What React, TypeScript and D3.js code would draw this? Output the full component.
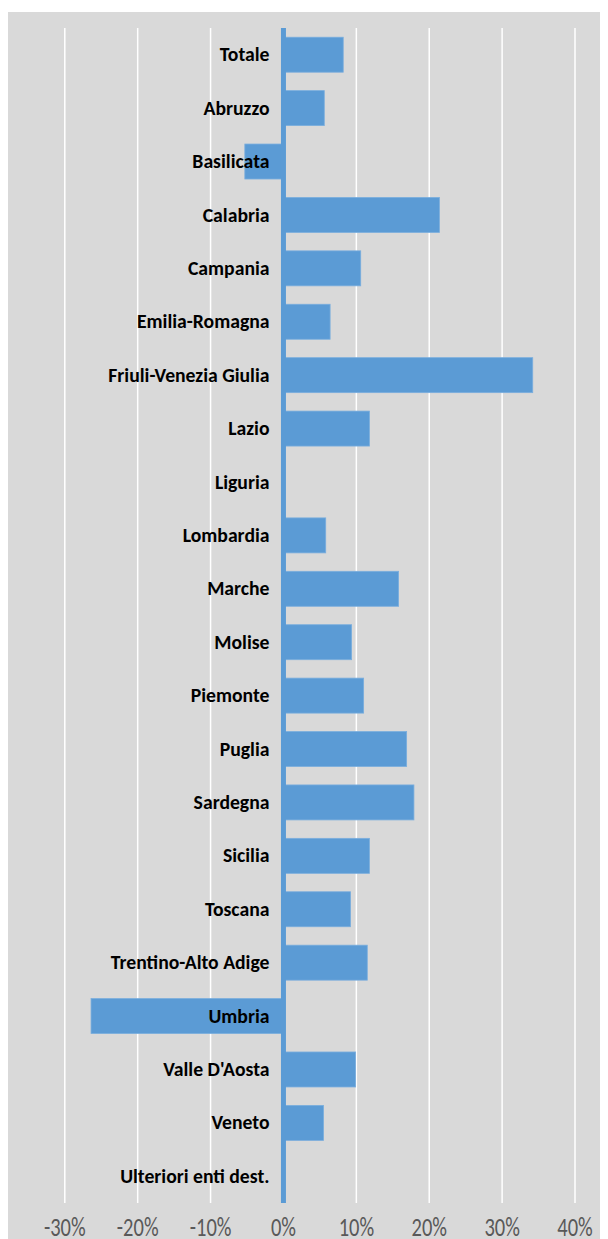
import React from "react";
import * as d3 from "d3";

const categories: string[] = [
  "Totale", "Abruzzo", "Basilicata", "Calabria", "Campania", "Emilia-Romagna",
  "Friuli-Venezia Giulia", "Lazio", "Liguria", "Lombardia", "Marche", "Molise",
  "Piemonte", "Puglia", "Sardegna", "Sicilia", "Toscana", "Trentino-Alto Adige",
  "Umbria", "Valle D'Aosta", "Veneto", "Ulteriori enti dest.",
];
const values: number[] = [
  8.2, 5.6, -5.3, 21.4, 10.6, 6.4, 34.2, 11.8, 0, 5.8, 15.8, 9.35, 11.0, 16.9,
  17.9, 11.8, 9.2, 11.5, -26.4, 9.9, 5.5, 0,
];
const tickValues: number[] = [-30, -20, -10, 0, 10, 20, 30, 40];

const W = 608;
const H = 1239;
const BLUE = "#5b9bd5";
const FONT = "Carlito, Calibri, Lato, sans-serif";

export default function App() {
  const x = d3.scaleLinear().domain([-30, 40]).range([64.8, 575]);
  const y = d3
    .scaleBand<string>()
    .domain(categories)
    .range([28, 1203])
    .paddingInner(0.345)
    .paddingOuter(0.1725);
  const fmt = (v: number) => `${v}%`;
  return (
    <svg width={W} height={H} style={{ position: "absolute", left: 0, top: 0 }}>
      <rect x={0} y={0} width={W} height={H} fill="#ffffff" />
      <rect x={8} y={12} width={592} height={H - 12} fill="#d9d9d9" />
      {tickValues.map((t) => (
        <line key={"g" + t} x1={x(t)} x2={x(t)} y1={28} y2={1203} stroke="#ffffff" strokeWidth={1.5} />
      ))}
      {categories.map((c, i) => {
        const v = values[i];
        const x0 = x(Math.min(0, v));
        const w = Math.abs(x(v) - x(0));
        return w > 0 ? (
          <rect key={"b" + c} x={x0} y={y(c)!} width={w} height={y.bandwidth()} fill={BLUE} stroke="#7aaede" strokeWidth={0.8} />
        ) : null;
      })}
      <line x1={x(0)} x2={x(0)} y1={28} y2={1203} stroke={BLUE} strokeWidth={5} />
      {categories.map((c) => (
        <text
          key={"l" + c}
          x={269.5}
          y={y(c)! + y.bandwidth() / 2 + 6.6}
          textAnchor="end"
          fontFamily={FONT}
          fontWeight="bold"
          fontSize={19.7}
          fill="#000000"
        >
          {c}
        </text>
      ))}
      {tickValues.map((t) => (
        <text
          key={"t" + t}
          transform={`translate(${x(t)},1235.5) scale(1,1.3)`}
          textAnchor="middle"
          fontFamily={FONT}
          fontSize={20.5}
          fill="#595959"
        >
          {fmt(t)}
        </text>
      ))}
    </svg>
  );
}
